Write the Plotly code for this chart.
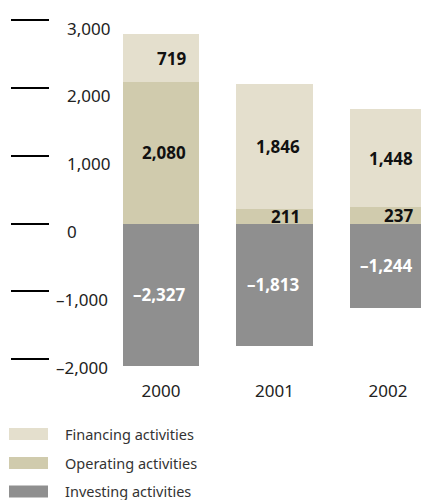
import plotly.graph_objects as go

# Cash flow by activity, in millions
years = ["2000", "2001", "2002"]
financing = [719, 1846, 1448]
operating = [2080, 211, 237]
investing = [-2327, -1813, -1244]

y_ticks = [3000, 2000, 1000, 0, -1000, -2000]
y_tick_text = ["3,000", "2,000", "1,000", "0", "\u20131,000", "\u20132,000"]

series_names = ["Financing activities", "Operating activities", "Investing activities"]

C_FIN = "#e4dfcd"
C_OPR = "#d0cbad"
C_INV = "#8f8f8f"

FONT = "Noto Sans"
W, H = 421, 500
Y_MIN, Y_MAX = -2101, 3296
PLOT_BOTTOM_PX = 366


def fmt(v):
    s = f"{abs(v):,}"
    return ("\u2013" + s) if v < 0 else s


fig = go.Figure()
bar_w = 0.67
fig.add_trace(go.Bar(x=years, y=operating, name=series_names[1], marker_color=C_OPR,
                     width=bar_w, marker_line_width=0))
fig.add_trace(go.Bar(x=years, y=financing, name=series_names[0], marker_color=C_FIN,
                     width=bar_w, marker_line_width=0))
fig.add_trace(go.Bar(x=years, y=investing, name=series_names[2], marker_color=C_INV,
                     width=bar_w, marker_line_width=0))

annotations = []
label_font = dict(family=FONT, size=17, color="#111111")
for i, (op, fin, inv) in enumerate(zip(operating, financing, investing)):
    # category index as position
    common = dict(x=i, xref="x", yref="y", showarrow=False, xanchor="right",
                  yanchor="middle", xshift=27)
    annotations.append(dict(common, y=op + fin / 2, text=f"<b>{fmt(fin)}</b>",
                            font=label_font))
    annotations.append(dict(common, y=op / 2, text=f"<b>{fmt(op)}</b>", font=label_font))
    annotations.append(dict(common, y=max(inv, Y_MIN) / 2, text=f"<b>{fmt(inv)}</b>",
                            font=dict(label_font, color="#ffffff")))

# y tick labels sit to the right of the tick strokes, a little below them
for v, t in zip(y_ticks, y_tick_text):
    if v < 0:
        ax = dict(x=110 / W, xanchor="right")
    else:
        ax = dict(x=65 / W, xanchor="left")
    annotations.append(dict(ax, y=v, xref="paper", yref="y", text=t, showarrow=False,
                            yanchor="middle", yshift=-8,
                            font=dict(family=FONT, size=17, color="#222222")))

# legend: wide swatches with labels beneath the chart
plot_h = PLOT_BOTTOM_PX
shapes = []
legend_rows = [(series_names[0], C_FIN, 434), (series_names[1], C_OPR, 463),
               (series_names[2], C_INV, 491.5)]
for name, col, cy in legend_rows:
    y0 = (PLOT_BOTTOM_PX - (cy + 6)) / plot_h
    y1 = (PLOT_BOTTOM_PX - (cy - 6)) / plot_h
    shapes.append(dict(type="rect", xref="paper", yref="paper", x0=9 / W, x1=48 / W,
                       y0=y0, y1=y1, fillcolor=col, line_width=0, layer="above"))
    annotations.append(dict(x=63 / W, y=(PLOT_BOTTOM_PX - cy) / plot_h, xref="paper",
                            yref="paper", text=name, showarrow=False, xanchor="left",
                            yanchor="middle",
                            font=dict(family=FONT, size=14.5, color="#333333")))

fig.update_layout(
    width=W, height=H,
    margin=dict(l=0, r=0, t=0, b=H - PLOT_BOTTOM_PX, pad=0),
    barmode="relative",
    bargap=0,
    plot_bgcolor="white",
    paper_bgcolor="white",
    showlegend=False,
    font=dict(family=FONT, color="#222222"),
    annotations=annotations,
    shapes=shapes,
    xaxis=dict(
        type="category",
        range=[-161 / 113.5, -161 / 113.5 + W / 113.5],
        showgrid=False, zeroline=False, showline=False,
        ticks="", ticklabelstandoff=13,
        tickfont=dict(family=FONT, size=17, color="#222222"),
    ),
    yaxis=dict(
        range=[Y_MIN, Y_MAX],
        anchor="free", position=10 / W,
        tickvals=y_ticks,
        showticklabels=False,
        ticks="inside", ticklen=38, tickwidth=2, tickcolor="#000000",
        showgrid=False, zeroline=False, showline=False,
    ),
)

fig.write_html("out.html")
